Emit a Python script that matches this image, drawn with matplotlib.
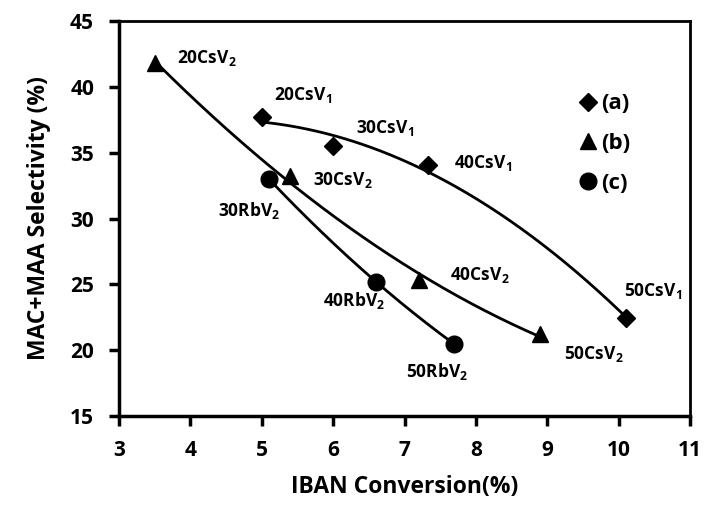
import numpy as np
import matplotlib
matplotlib.use("Agg")
import matplotlib.pyplot as plt

plt.rcParams['font.family'] = 'Open Sans'
plt.rcParams['font.weight'] = 'bold'
plt.rcParams['axes.labelweight'] = 'bold'
plt.rcParams['mathtext.fontset'] = 'custom'
plt.rcParams['mathtext.rm'] = 'Open Sans:bold'
plt.rcParams['mathtext.it'] = 'Open Sans:bold'
plt.rcParams['mathtext.bf'] = 'Open Sans:bold'

# Series (a): CsV1, (b): CsV2, (c): RbV2
a_x = [5.0, 6.0, 7.33, 10.1]
a_y = [37.7, 35.5, 34.05, 22.45]
b_x = [3.5, 5.4, 7.2, 8.9]
b_y = [41.8, 33.2, 25.3, 21.2]
c_x = [5.1, 6.6, 7.7]
c_y = [33.0, 25.2, 20.45]

x_ticks = [3, 4, 5, 6, 7, 8, 9, 10, 11]
y_ticks = [15, 20, 25, 30, 35, 40, 45]

# point labels and where they sit
labels = ["20CsV$_2$", "20CsV$_1$", "30CsV$_1$", "40CsV$_1$", "30CsV$_2$", "30RbV$_2$",
          "40CsV$_2$", "40RbV$_2$", "50CsV$_1$", "50CsV$_2$", "50RbV$_2$"]
label_x = [3.81, 5.17, 6.32, 7.69, 5.72, 4.39, 7.64, 5.86, 10.07, 9.23, 7.02]
label_y = [42.2, 39.4, 36.9, 34.2, 32.9, 30.6, 25.7, 23.8, 24.5, 19.7, 18.4]

fig = plt.figure(figsize=(7.05, 5.05), dpi=100)
ax = fig.add_axes([0.1688, 0.1762, 0.81, 0.7822])

series = [(a_x, a_y, 'D', 9, '(a)'), (b_x, b_y, '^', 12, '(b)'), (c_x, c_y, 'o', 12, '(c)')]
for xs, ys, m, ms, lab in series:
    # quadratic trendline between first and last point
    coef = np.polyfit(xs, ys, 2)
    xx = np.linspace(min(xs), max(xs), 200)
    ax.plot(xx, np.polyval(coef, xx), color='black', lw=2.0, zorder=2)
    ax.plot(xs, ys, linestyle='none', marker=m, markersize=ms, color='black',
            label=lab, zorder=3)

for t, x, y in zip(labels, label_x, label_y):
    ax.text(x, y, t, fontsize=12.5, fontweight='bold', ha='left', va='center')

ax.set_xlim(3, 11)
ax.set_ylim(15, 45)
ax.set_xticks(x_ticks, labels=[str(v) for v in x_ticks], fontweight='bold', fontsize=15)
ax.set_yticks(y_ticks, labels=[str(v) for v in y_ticks], fontweight='bold', fontsize=15)
ax.tick_params(direction='out', length=7, width=2.5, top=False, right=False)
ax.tick_params(axis='x', pad=10)
ax.tick_params(axis='y', pad=11)
for s in ['left', 'bottom']:
    ax.spines[s].set_linewidth(2.5)
for s in ['top', 'right']:
    ax.spines[s].set_linewidth(2.0)

ax.set_xlabel("IBAN Conversion(%)", fontsize=16.5, fontweight='bold', labelpad=10)
ax.set_ylabel("MAC+MAA Selectivity (%)", fontsize=16.5, fontweight='bold', labelpad=14)

leg = ax.legend(loc='upper left', bbox_to_anchor=(0.79, 0.845), frameon=False,
                handlelength=0.6, handletextpad=0.3, labelspacing=0.85,
                borderpad=0, prop={'family': 'Open Sans', 'weight': 'bold', 'size': 16})

fig.savefig("out.png", dpi=100)
